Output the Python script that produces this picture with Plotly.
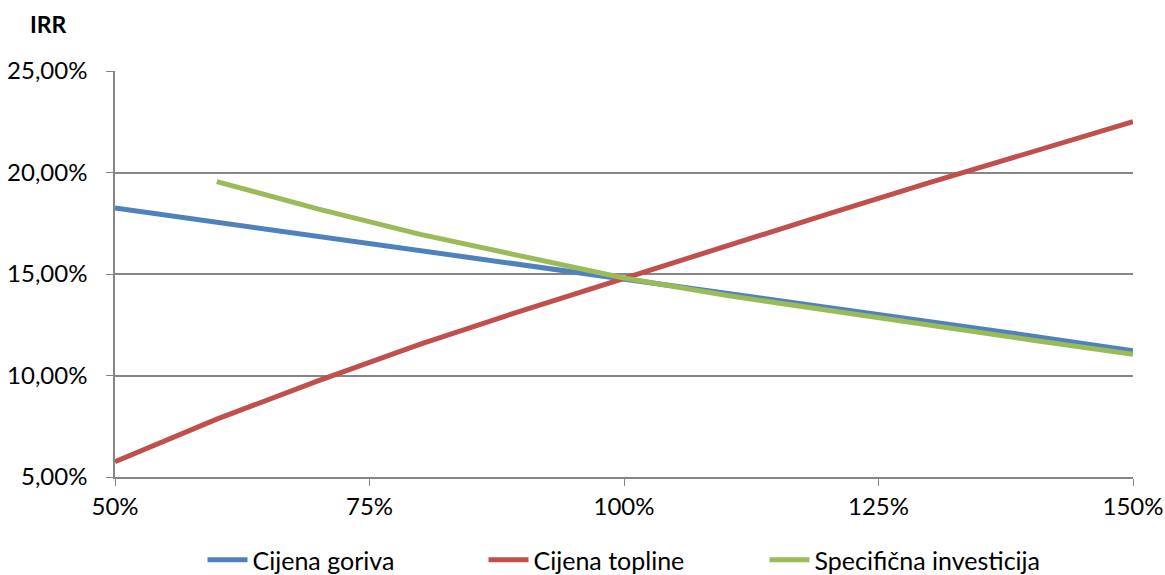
import plotly.graph_objects as go

x_vals = [0.5, 0.6, 0.7, 0.8, 0.9, 1.0, 1.1, 1.2, 1.3, 1.4, 1.5]
cijena_goriva = [18.25, 17.55, 16.88, 16.2, 15.5, 14.8, 14.08, 13.38, 12.65, 11.95, 11.22]
cijena_topline = [5.75, 7.85, 9.75, 11.55, 13.2, 14.8, 16.4, 17.95, 19.5, 21.0, 22.5]
x_green = [0.6, 0.7, 0.8, 0.9, 1.0, 1.1, 1.2, 1.3, 1.4, 1.5]
specificna_investicija = [19.55, 18.2, 16.95, 15.85, 14.8, 13.95, 13.2, 12.5, 11.75, 11.05]
y_ticks = [0.05, 0.10, 0.15, 0.20, 0.25]
x_ticks = [0.5, 0.75, 1.0, 1.25, 1.5]

FONT = "Lato"
W, H = 1165, 575
L, R, T, B = 115, 1133, 71, 477

fig = go.Figure()
fig.add_trace(go.Scatter(x=x_vals, y=[v / 100 for v in cijena_goriva], mode="lines",
                         name="Cijena goriva", line=dict(color="#4F81BD", width=5)))
fig.add_trace(go.Scatter(x=x_vals, y=[v / 100 for v in cijena_topline], mode="lines",
                         name="Cijena topline", line=dict(color="#C0504D", width=5)))
fig.add_trace(go.Scatter(x=x_green, y=[v / 100 for v in specificna_investicija], mode="lines",
                         name="Specifična investicija", line=dict(color="#9BBB59", width=5)))

fig.update_layout(
    width=W, height=H,
    margin=dict(l=L, r=W - R, t=T, b=H - B, autoexpand=False),
    paper_bgcolor="white", plot_bgcolor="white",
    separators=",.",
    font=dict(family=FONT, size=24, color="black"),
    title=dict(text="<b>IRR</b>", x=30 / W, xanchor="left", xref="container",
               y=1 - 25 / H, yanchor="middle", yref="container",
               font=dict(family=FONT, size=23, color="black")),
    xaxis=dict(range=[0.5, 1.5], tickvals=x_ticks, tickformat=".0%",
               showgrid=False, zeroline=False, showline=True, linecolor="#868686",
               linewidth=1.5, ticks="outside", ticklen=7, tickcolor="#868686",
               tickfont=dict(family=FONT, size=24)),
    yaxis=dict(range=[0.05, 0.25], tickvals=y_ticks, tickformat=".2%",
               showgrid=True, gridcolor="#868686", gridwidth=1.5, zeroline=False,
               showline=True, linecolor="#868686", linewidth=1.5,
               ticks="outside", ticklen=7, tickcolor="#868686",
               tickfont=dict(family=FONT, size=24), ticklabelstandoff=14),
    legend=dict(orientation="h", x=0.5, xanchor="center", y=-0.148, yanchor="top",
                font=dict(family=FONT, size=25), entrywidth=226, entrywidthmode="pixels",
                itemwidth=40, tracegroupgap=0, bgcolor="rgba(0,0,0,0)"),
    showlegend=True,
)

fig.write_html("out.html", config={"displayModeBar": False},
               post_script="document.body.style.margin='0';document.body.style.overflow='hidden';")
